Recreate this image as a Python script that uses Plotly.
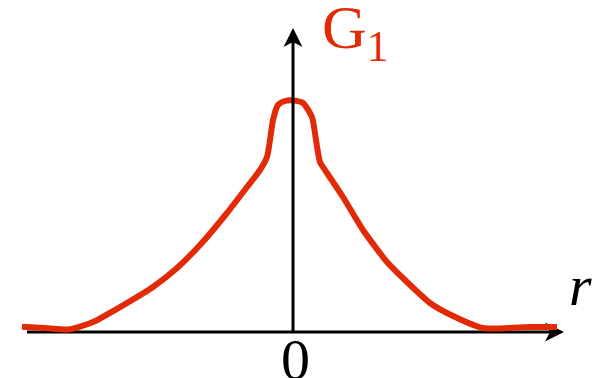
import plotly.graph_objects as go

# Data (r in arbitrary units, G1 in arbitrary units)
r_vals = [-2.71, -2.48, -2.23, -2.00, -1.66, -1.40, -1.16, -0.93, -0.66, -0.46, -0.33, -0.26,
          -0.23, -0.20, -0.15, -0.08, 0.0, 0.10, 0.19, 0.23, 0.27, 0.34, 0.50, 0.70, 0.94,
          1.14, 1.37, 1.54, 1.90, 2.37, 2.64]
g_vals = [0.053, 0.04, 0.027, 0.10, 0.29, 0.45, 0.64, 0.87, 1.19, 1.45, 1.62, 1.75,
          1.92, 2.12, 2.27, 2.31, 2.315, 2.29, 2.15, 1.92, 1.70, 1.59, 1.35, 1.02, 0.70,
          0.50, 0.29, 0.19, 0.04, 0.05, 0.05]

axis_labels = {"x": "r", "y": "G<sub>1</sub>", "origin": "0"}

# page has an 8px body margin, so the figure is 8px smaller and ranges start 8px in
X_RANGE = [-2.85, 3.12]
Y_RANGE = [-0.46, 3.24]
X_AXIS_START, X_AXIS_END = -2.66, 2.71
Y_AXIS_END = 3.04
RED = "#e22a06"
BLACK = "#000000"
FONT = "Liberation Serif"

fig = go.Figure()
fig.add_trace(go.Scatter(x=r_vals, y=g_vals, mode="lines",
                         line=dict(color=RED, width=6, shape="spline", smoothing=0.6),
                         hoverinfo="skip", showlegend=False))

ah_len, ah_half, notch = 0.19, 0.095, 0.05
shapes = [
    dict(type="line", x0=X_AXIS_START, x1=X_AXIS_END - ah_len + notch, y0=0, y1=0,
         line=dict(color=BLACK, width=3), layer="below"),
    dict(type="path", layer="below", fillcolor=BLACK, line=dict(width=0),
         path=f"M {X_AXIS_END} 0 L {X_AXIS_END-ah_len} {ah_half} L {X_AXIS_END-ah_len+notch} 0 "
              f"L {X_AXIS_END-ah_len} {-ah_half} Z"),
    dict(type="line", x0=0, x1=0, y0=0, y1=Y_AXIS_END - ah_len + notch,
         line=dict(color=BLACK, width=3), layer="above"),
    dict(type="path", layer="above", fillcolor=BLACK, line=dict(width=0),
         path=f"M 0 {Y_AXIS_END} L {ah_half} {Y_AXIS_END-ah_len} L 0 {Y_AXIS_END-ah_len+notch} "
              f"L {-ah_half} {Y_AXIS_END-ah_len} Z"),
]

annotations = [
    dict(x=0.27, y=2.60, xref="x", yref="y", text=axis_labels["y"], showarrow=False,
         xanchor="left", yanchor="bottom", font=dict(family=FONT, size=62, color=RED)),
    dict(x=2.74, y=0.12, xref="x", yref="y", text=f"<i>{axis_labels['x']}</i>", showarrow=False,
         xanchor="left", yanchor="bottom", font=dict(family=FONT, size=58, color=BLACK)),
    dict(x=0.02, y=0.07, xref="x", yref="y", text=axis_labels["origin"], showarrow=False,
         xanchor="center", yanchor="top", font=dict(family=FONT, size=58, color=BLACK)),
]

fig.update_layout(
    width=597, height=370, margin=dict(l=0, r=0, t=0, b=0),
    paper_bgcolor="white", plot_bgcolor="white",
    xaxis=dict(range=X_RANGE, visible=False, fixedrange=True),
    yaxis=dict(range=Y_RANGE, visible=False, fixedrange=True),
    shapes=shapes, annotations=annotations, showlegend=False,
)
fig.write_html("out.html")
